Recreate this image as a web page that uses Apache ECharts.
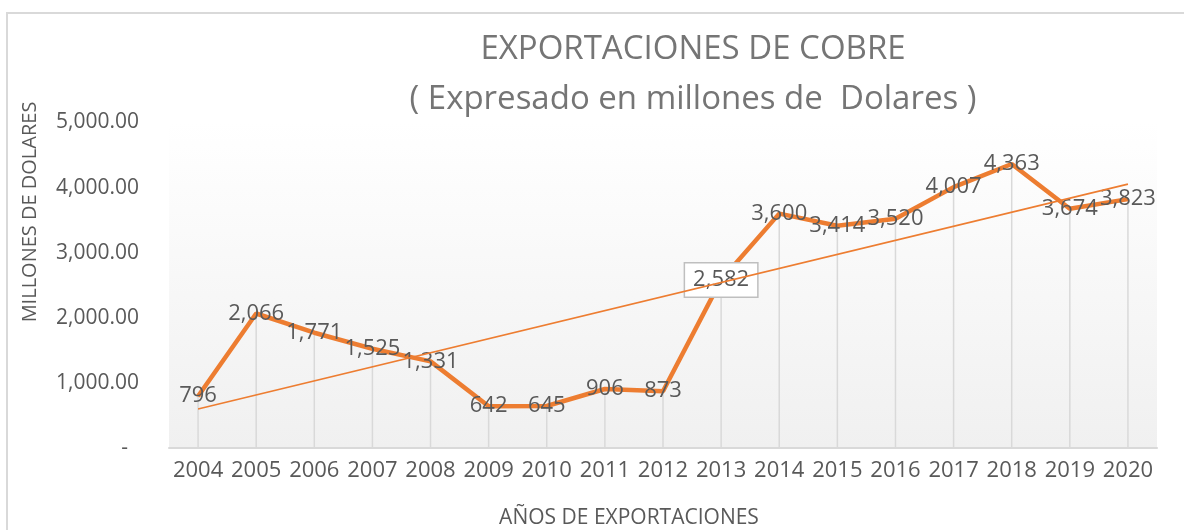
<!DOCTYPE html>
<html lang="es">
<head>
    <meta charset="UTF-8">
    <script src="https://cdn.jsdelivr.net/npm/echarts@6/dist/echarts.min.js"></script>
    <title>Exportaciones de cobre</title>
    <style>
        html, body { margin: 0; padding: 0; background: #fff; }
        #main { width: 1184px; height: 530px; }
    </style>
</head>
<body>
<div id="main"></div>
<script>
    // años y valores (millones de dolares)
    var years = ['2004', '2005', '2006', '2007', '2008', '2009', '2010', '2011', '2012',
        '2013', '2014', '2015', '2016', '2017', '2018', '2019', '2020'];
    var exportValues = [796, 2066, 1771, 1525, 1331, 642, 645, 906, 873,
        2582, 3600, 3414, 3520, 4007, 4363, 3674, 3823];
    // linea de tendencia: valor inicial y final
    var trendEnds = [599, 4053];
    var yTicks = [0, 1000, 2000, 3000, 4000, 5000];
    var boxedYear = '2013';

    var orange = '#ED7D31';
    var txt = '#595959';
    var font = 'Open Sans';

    function fmtLabel(v) {
        return v.toLocaleString('en-US');
    }

    var lineData = exportValues.map(function (v, i) {
        var item = {value: v};
        if (years[i] === boxedYear) {
            item.label = {
                backgroundColor: '#ffffff',
                borderColor: '#bfbfbf',
                borderWidth: 1.5,
                padding: [6, 8, 5, 8]
            };
        }
        return item;
    });

    var myChart = echarts.init(document.getElementById('main'));
    var option = {
        animation: false,
        textStyle: {fontFamily: font},
        grid: {
            left: 169, right: 27, top: 122.5, bottom: 82,
            show: true,
            borderWidth: 0,
            backgroundColor: new echarts.graphic.LinearGradient(0, 0, 0, 1, [
                {offset: 0, color: '#ffffff'},
                {offset: 1, color: '#f0f0f0'}
            ])
        },
        graphic: [
            {
                type: 'rect', z: -10, silent: true,
                shape: {x: 7, y: 13, width: 1250, height: 600},
                style: {fill: 'none', stroke: '#d9d9d9', lineWidth: 2}
            },
            {
                type: 'text', x: 693, y: 50,
                style: {
                    text: 'EXPORTACIONES DE COBRE', fill: '#757575', font: '33px "Open Sans"',
                    align: 'center', verticalAlign: 'middle'
                }
            },
            {
                type: 'text', x: 693, y: 100,
                style: {
                    text: '( Expresado en millones de  Dolares )', fill: '#757575', font: '33px "Open Sans"',
                    align: 'center', verticalAlign: 'middle'
                }
            },
            {
                type: 'text', x: 30, y: 212, rotation: Math.PI / 2,
                style: {
                    text: 'MILLONES DE DOLARES', fill: txt, font: '20px "Open Sans"',
                    align: 'center', verticalAlign: 'middle'
                }
            },
            {
                type: 'text', x: 629, y: 518,
                style: {
                    text: 'AÑOS DE EXPORTACIONES', fill: txt, font: '21px "Open Sans"',
                    align: 'center', verticalAlign: 'middle'
                }
            }
        ],
        xAxis: {
            type: 'category',
            data: years,
            boundaryGap: true,
            axisLine: {lineStyle: {color: '#d9d9d9', width: 2}},
            axisTick: {show: false},
            axisLabel: {color: txt, fontSize: 22, margin: 12, interval: 0}
        },
        yAxis: {
            type: 'value',
            min: yTicks[0],
            max: yTicks[yTicks.length - 1],
            interval: 1000,
            splitLine: {show: false},
            axisLine: {show: false},
            axisTick: {show: false},
            axisLabel: {
                color: txt, fontSize: 21, margin: 30,
                formatter: function (v) {
                    if (v === 0) return '-  ';
                    return v.toLocaleString('en-US', {minimumFractionDigits: 2, maximumFractionDigits: 2});
                }
            }
        },
        series: [
            {
                // lineas verticales desde cada punto
                type: 'bar',
                data: exportValues,
                barWidth: 1.5,
                itemStyle: {color: '#d9d9d9'},
                silent: true,
                z: 1
            },
            {
                name: 'Exportaciones',
                type: 'line',
                data: lineData,
                symbol: 'circle',
                symbolSize: 1,
                itemStyle: {color: orange},
                lineStyle: {color: orange, width: 4.5},
                label: {
                    show: true,
                    position: 'inside',
                    color: txt,
                    fontSize: 22,
                    formatter: function (p) { return fmtLabel(p.value); }
                },
                z: 3
            },
            {
                name: 'Tendencia',
                type: 'line',
                data: [[0, trendEnds[0]], [years.length - 1, trendEnds[1]]],
                symbol: 'none',
                lineStyle: {color: orange, width: 1.6},
                silent: true,
                z: 4
            }
        ]
    };
    myChart.setOption(option);
</script>
</body>
</html>
